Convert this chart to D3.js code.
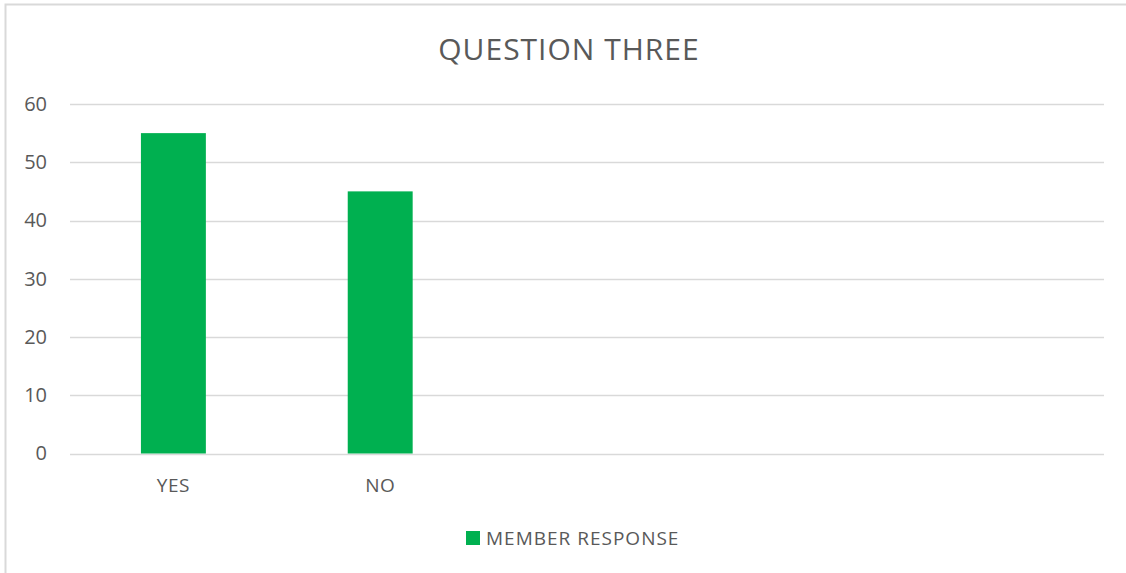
<!DOCTYPE html>
<html>
<head>
<meta charset="utf-8">
<title>Question Three</title>
<script src="https://cdn.jsdelivr.net/npm/d3@7"></script>
<style>
  body { margin: 0; background: #fff; }
  text { font-family: "Open Sans", "Liberation Sans", sans-serif; fill: #595959; }
</style>
</head>
<body>
<svg width="1126" height="573"></svg>
<script>
// data
var categories = ["YES", "NO", "", " ", "  "];   // 5 slots, last 3 empty
var responses = [55, 45, null, null, null];
var yTicks = [0, 10, 20, 30, 40, 50, 60];
var seriesName = "MEMBER RESPONSE";

var green = "#00b050";
var svg = d3.select("svg");

// chart frame (right / bottom edges are off the picture)
svg.append("rect")
    .attr("x", 5.5).attr("y", 4.5)
    .attr("width", 1130).attr("height", 580)
    .attr("fill", "#fff")
    .attr("stroke", "#d9d9d9")
    .attr("stroke-width", 2);

var plotL = 70, plotR = 1104, plotT = 104, plotB = 453.5;

var x = d3.scaleBand()
    .domain(categories)
    .range([plotL, plotR])
    .paddingInner(0.686)
    .paddingOuter(0.343);

var y = d3.scaleLinear()
    .domain([0, 60])
    .range([plotB, plotT]);

// gridlines
svg.append("g").selectAll("line")
  .data(yTicks)
  .enter().append("line")
    .attr("x1", plotL).attr("x2", plotR)
    .attr("y1", function(d) { return Math.round(y(d)) + 0.5; })
    .attr("y2", function(d) { return Math.round(y(d)) + 0.5; })
    .attr("stroke", "#d9d9d9")
    .attr("stroke-width", 1.3);

// y axis labels
var yAxis = d3.axisLeft(y).tickValues(yTicks).tickSize(0).tickPadding(0);
var gy = svg.append("g")
    .attr("transform", "translate(47,0)")
    .call(yAxis);
gy.select(".domain").remove();
gy.selectAll("text")
    .attr("font-size", 20)
    .attr("fill", "#595959")
    .attr("font-family", null);

// bars
svg.append("g").selectAll("rect")
  .data(responses.map(function(v, i) { return {cat: categories[i], v: v}; }).filter(function(d) { return d.v != null; }))
  .enter().append("rect")
    .attr("x", function(d) { return x(d.cat); })
    .attr("width", x.bandwidth())
    .attr("y", function(d) { return y(d.v); })
    .attr("height", function(d) { return y(0) - y(d.v); })
    .attr("fill", green);

// x axis labels
var xAxis = d3.axisBottom(x).tickSize(0).tickPadding(0);
var gx = svg.append("g")
    .attr("transform", "translate(0,478)")
    .call(xAxis);
gx.select(".domain").remove();
gx.selectAll("text")
    .attr("font-size", 19)
    .attr("letter-spacing", 0.5)
    .attr("fill", "#595959")
    .attr("font-family", null);

// title
svg.append("text")
    .attr("x", 569)
    .attr("y", 60)
    .attr("text-anchor", "middle")
    .attr("font-size", 30)
    .attr("letter-spacing", 1)
    .text("QUESTION THREE");

// legend
var legend = svg.append("g").attr("transform", "translate(466,531)");
legend.append("rect")
    .attr("width", 14).attr("height", 14)
    .attr("fill", green);
legend.append("text")
    .attr("x", 20).attr("y", 14)
    .attr("font-size", 19)
    .attr("letter-spacing", 1)
    .text(seriesName);
</script>
</body>
</html>
